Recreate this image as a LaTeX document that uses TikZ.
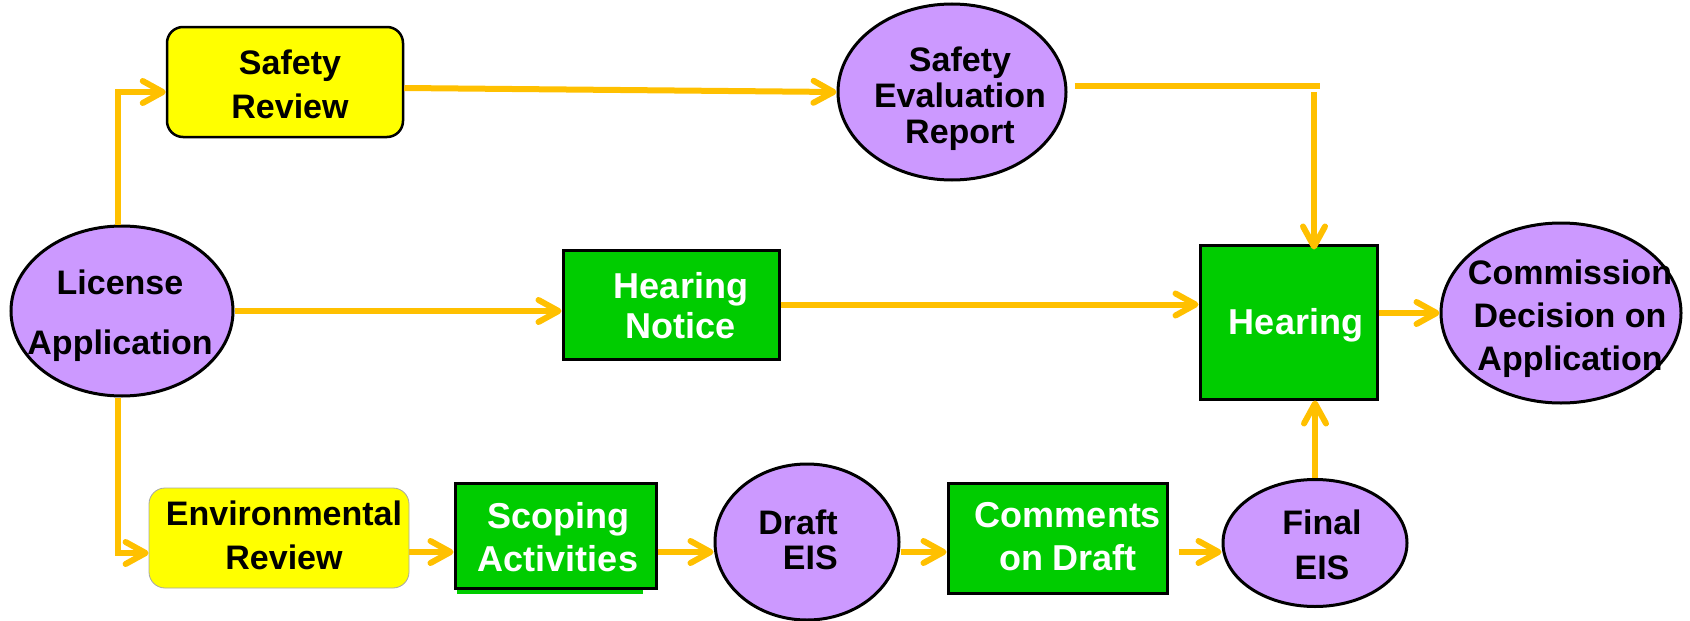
\documentclass[tikz,border=0pt]{standalone}
\usepackage{fontspec}
\setmainfont{Liberation Sans}
\usetikzlibrary{arrows.meta,shapes.geometric,calc}
\definecolor{lav}{HTML}{CC99FF}
\definecolor{ylw}{HTML}{FFFF00}
\definecolor{grn}{HTML}{00CC00}
\definecolor{arrc}{HTML}{FFC000}
\begin{document}
\begin{tikzpicture}[x=1pt,y=-1pt,
  oval/.style={ellipse, draw=black, line width=3pt, fill=lav, inner sep=0pt},
  ybox/.style={rectangle, rounded corners=16pt, draw=black, line width=2.5pt, fill=ylw, inner sep=0pt},
  gbox/.style={rectangle, draw=black, line width=3pt, fill=grn, inner sep=0pt},
  btxt/.style={font=\bfseries\fontsize{34}{44}\selectfont, align=center, inner sep=0pt, text=black},
  wtxt/.style={font=\bfseries\fontsize{36}{43}\selectfont, align=center, inner sep=0pt, text=white},
  conn/.style={draw=arrc, line width=6pt},
  arr/.style={conn, -{Straight Barb[length=20pt,width=22pt,round]}},
]
\useasboundingbox (0,0) rectangle (1690,621);

% shapes
\node[oval, minimum width=222pt, minimum height=170pt] (la) at (122,311) {};
\node[ybox, minimum width=236pt, minimum height=110pt] (sr) at (285,82) {};
\node[oval, minimum width=228pt, minimum height=176pt] (ser) at (952,92) {};
\node[gbox, minimum width=216pt, minimum height=109pt] (hn) at (671,304.5) {};
\node[gbox, minimum width=177pt, minimum height=154pt] (hear) at (1288.5,322) {};
\node[oval, minimum width=240pt, minimum height=180pt] (cda) at (1561,313) {};
\node[ybox, draw=gray!70, line width=0.8pt, minimum width=260pt, minimum height=100pt] (er) at (279,538) {};
\fill[grn] (457,588) rectangle (643,594);
\node[gbox, minimum width=201pt, minimum height=105pt] (sc) at (555.5,535.5) {};
\node[oval, minimum width=184pt, minimum height=156pt] (dr) at (807,542) {};
\node[gbox, minimum width=219pt, minimum height=110pt] (cm) at (1057.5,538) {};
\node[oval, minimum width=184pt, minimum height=127pt] (fi) at (1315,543) {};

% texts
\node[btxt, font=\bfseries\fontsize{34}{60}\selectfont] (laT) at (120,316) {License\\Application};
\node[btxt] (srT) at (290,84) {Safety\\Review};
\node[btxt, font=\bfseries\fontsize{34}{36}\selectfont] (serT) at (960,99) {Safety\\Evaluation\\Report};
\node[wtxt, font=\bfseries\fontsize{36}{40}\selectfont] (hnT) at (681,306) {Hearing\\Notice};
\node[wtxt] (hearT) at (1296,325) {Hearing};
\node[btxt, font=\bfseries\fontsize{34}{43}\selectfont] (cdaT) at (1570,319) {Commission\\Decision on\\Application};
\node[btxt] (erT) at (284,535) {Environmental\\Review};
\node[wtxt] (scT) at (558,537) {Scoping\\Activities};
\node[btxt, align=right, font=\bfseries\fontsize{34}{35}\selectfont] (drT) at (798,540) {Draft\\EIS};
\node[wtxt] (cmT) at (1068,537) {Comments\\on Draft};
\node[btxt, font=\bfseries\fontsize{34}{45}\selectfont] (fiT) at (1322,545) {Final\\EIS};

% connectors
\coordinate (lvl) at (0,552);
\coordinate (c1) at (1320,86);
\draw[arr] ([xshift=-4pt]la.north) |- ([yshift=-10pt]sr.west);
\draw[arr] ([xshift=-4pt]la.south) |- ([yshift=-15pt]er.west);
\draw[arr] (la.east) -- (la.east -| hn.west);
\draw[arr] ([yshift=-6pt]sr.east) -- (ser.west);
\draw[conn] ([xshift=7pt,yshift=6pt]ser.east) -- (c1);
\draw[arr] ([xshift=-6pt,yshift=-6pt]c1) -- ([xshift=-6pt,yshift=-6pt]c1 |- hear.north);
\draw[arr] (hn.east) -- (hn.east -| hear.west);
\draw[arr] (cda.west -| hear.east) -- (cda.west);
\draw[arr] (er.east |- lvl) -- (sc.west |- lvl);
\draw[arr] (sc.east |- lvl) -- (dr.west |- lvl);
\draw[arr] (dr.east |- lvl) -- (cm.west |- lvl);
\draw[arr] ([xshift=10pt]cm.east |- lvl) -- (fi.west |- lvl);
\draw[arr] (fi.north) -- (fi.north |- hear.south);
\end{tikzpicture}
\end{document}
